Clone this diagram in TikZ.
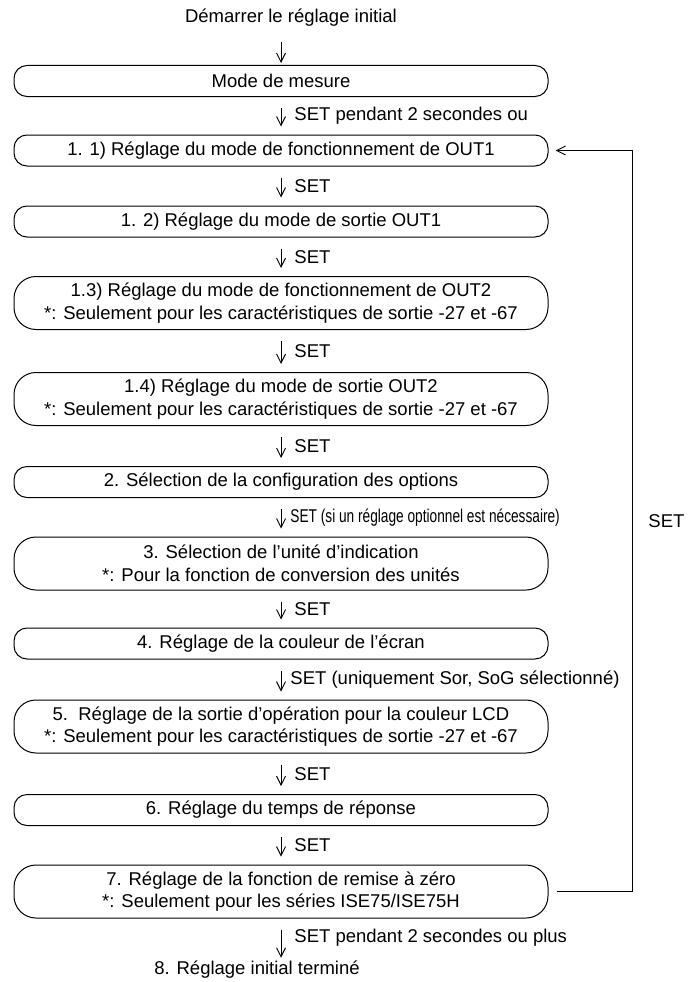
\documentclass[tikz,border=0pt]{standalone}
\usepackage{fontspec}
\setmainfont{Liberation Sans}
\usetikzlibrary{arrows.meta}

\begin{document}
\begin{tikzpicture}[x=1pt, y=-1pt, font=\fontsize{18.5}{22.5}\selectfont,
                    stepbox/.style={draw, line width=1pt, rounded corners=13pt, minimum width=534pt, minimum height=31pt, inner sep=0pt},
                    tallbox/.style={stepbox, rounded corners=22pt, minimum height=53pt, align=center},
                    arrow/.style={-{Straight Barb[length=9pt,width=9pt]}, line width=0.9pt, shorten <=11pt, shorten >=8pt},
                    lbl/.style={right, inner sep=0pt, xshift=13pt}]
\useasboundingbox (0,0) rectangle (690,982);

% Start and measuring mode
\node (start) at (291,18) {Démarrer le réglage initial};
\node[stepbox] (mode) at (281,81) {Mode de mesure};

% Step 1
\node[stepbox] (s11) at (281,150.5) {1. 1) Réglage du mode de fonctionnement de OUT1};
\node[stepbox] (s12) at (281,221.5) {1. 2) Réglage du mode de sortie OUT1};
\node[tallbox] (s13) at (281,303) {1.3) Réglage du mode de fonctionnement de OUT2\\*: Seulement pour les caractéristiques de sortie -27 et -67};
\node[tallbox] (s14) at (281,399) {1.4) Réglage du mode de sortie OUT2\\*: Seulement pour les caractéristiques de sortie -27 et -67};

% Steps 2 to 7
\node[stepbox] (s2) at (281,482) {2. Sélection de la configuration des options};
\node[tallbox] (s3) at (281,563.5) {3. Sélection de l'unité d'indication\\*: Pour la fonction de conversion des unités};
\node[stepbox] (s4) at (281,643.5) {4. Réglage de la couleur de l'écran};
\node[tallbox] (s5) at (281,726.5) {5.\ \ Réglage de la sortie d'opération pour la couleur LCD\\*: Seulement pour les caractéristiques de sortie -27 et -67};
\node[stepbox] (s6) at (281,810) {6. Réglage du temps de réponse};
\node[tallbox] (s7) at (281,891.5) {7. Réglage de la fonction de remise à zéro\\*: Seulement pour les séries ISE75/ISE75H};
\node (finish) at (257,970) {8. Réglage initial terminé};

% Arrows
\draw[arrow, shorten <=12pt, shorten >=2pt] (start.south -| mode) -- (mode);
\draw[arrow] (mode) -- node[lbl] {SET pendant 2 secondes ou} (s11);
\draw[arrow] (s11) -- node[lbl] {SET} (s12);
\draw[arrow] (s12) -- node[lbl] {SET} (s13);
\draw[arrow] (s13) -- node[lbl] {SET} (s14);
\draw[arrow] (s14) -- node[lbl] {SET} (s2);
\draw[arrow] (s2) -- node[lbl, xshift=-4pt] {\scalebox{0.74}[1]{SET (si un réglage optionnel est nécessaire)}} (s3);
\draw[arrow] (s3) -- node[lbl] {SET} (s4);
\draw[arrow] (s4) -- node[lbl, xshift=-4pt] {SET (uniquement Sor, SoG sélectionné)} (s5);
\draw[arrow] (s5) -- node[lbl] {SET} (s6);
\draw[arrow] (s6) -- node[lbl] {SET} (s7);
\draw[arrow, shorten >=0pt] (s7) -- node[lbl] {SET pendant 2 secondes ou plus} (finish.north -| s7);

% Return loop
\coordinate (loop) at (632,0);
\draw[arrow, shorten <=8pt, shorten >=7pt] (s7.east) -- (s7.east -| loop) -- node[right=16pt, inner sep=0pt] {SET} (s11.east -| loop) -- (s11.east);
\end{tikzpicture}
\end{document}
